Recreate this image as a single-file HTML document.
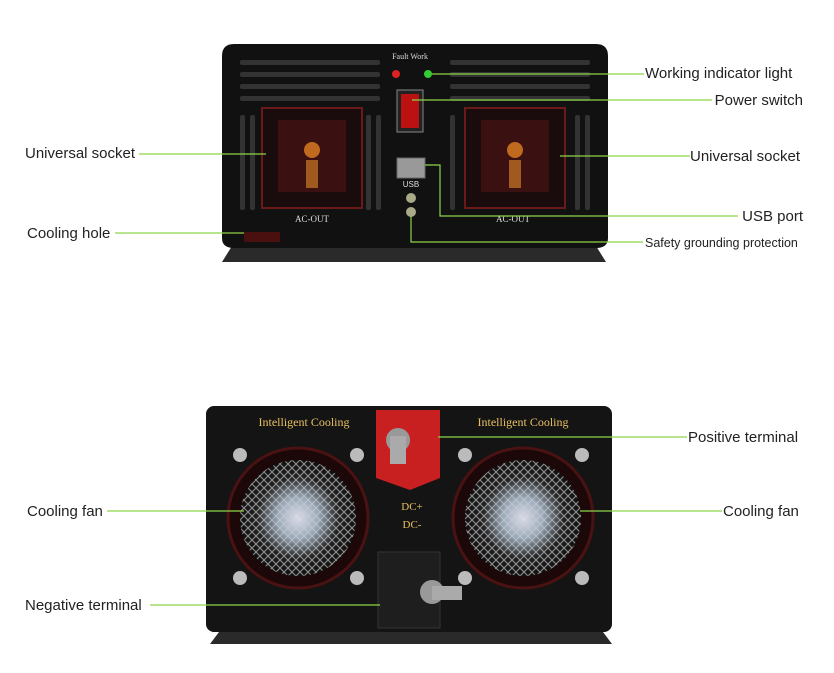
<!DOCTYPE html>
<html><head><meta charset="utf-8"><style>
body{margin:0;background:#fff;width:834px;height:668px;overflow:hidden;font-family:"Liberation Sans",sans-serif}
</style></head><body>
<svg width="834" height="668" viewBox="0 0 834 668" xmlns="http://www.w3.org/2000/svg">
<defs>
<radialGradient id="fan" cx="50%" cy="50%" r="50%"><stop offset="0" stop-color="#dde" /><stop offset="0.35" stop-color="#9ab"/><stop offset="0.7" stop-color="#222"/><stop offset="1" stop-color="#111"/></radialGradient>
<pattern id="grill" width="8" height="8" patternUnits="userSpaceOnUse"><rect width="8" height="8" fill="none"/><line x1="0" y1="0" x2="8" y2="8" stroke="#ccc" stroke-width="1"/><line x1="8" y1="0" x2="0" y2="8" stroke="#ccc" stroke-width="1"/></pattern>
</defs>
<path d="M232 246 L222 262 L606 262 L596 246Z" fill="#2a2a2a"/>
<path d="M222 56 Q222 44 234 44 L596 44 Q608 44 608 56 L608 238 Q608 248 596 248 L234 248 Q222 248 222 238Z" fill="#111"/>
<g fill="#333">
<rect x="240" y="60" width="140" height="5" rx="2"/><rect x="240" y="72" width="140" height="5" rx="2"/><rect x="240" y="84" width="140" height="5" rx="2"/><rect x="240" y="96" width="140" height="5" rx="2"/>
<rect x="450" y="60" width="140" height="5" rx="2"/><rect x="450" y="72" width="140" height="5" rx="2"/><rect x="450" y="84" width="140" height="5" rx="2"/><rect x="450" y="96" width="140" height="5" rx="2"/>
<rect x="240" y="115" width="5" height="95" rx="2"/><rect x="250" y="115" width="5" height="95" rx="2"/>
<rect x="366" y="115" width="5" height="95" rx="2"/><rect x="376" y="115" width="5" height="95" rx="2"/>
<rect x="450" y="115" width="5" height="95" rx="2"/><rect x="575" y="115" width="5" height="95" rx="2"/><rect x="585" y="115" width="5" height="95" rx="2"/>
</g>
<rect x="262" y="108" width="100" height="100" fill="#1a0c0c" stroke="#6a1a1a" stroke-width="2"/>
<rect x="465" y="108" width="100" height="100" fill="#1a0c0c" stroke="#6a1a1a" stroke-width="2"/>
<rect x="278" y="120" width="68" height="72" fill="#3a1010"/>
<rect x="481" y="120" width="68" height="72" fill="#3a1010"/>
<circle cx="312" cy="150" r="8" fill="#c06a20"/><circle cx="515" cy="150" r="8" fill="#c06a20"/>
<rect x="306" y="160" width="12" height="28" fill="#a05a20"/><rect x="509" y="160" width="12" height="28" fill="#a05a20"/>
<text x="312" y="222" font-family="Liberation Serif" font-size="9" fill="#ddd" text-anchor="middle">AC-OUT</text>
<text x="513" y="222" font-family="Liberation Serif" font-size="9" fill="#ddd" text-anchor="middle">AC-OUT</text>
<text x="410" y="59" font-family="Liberation Serif" font-size="8" fill="#ddd" text-anchor="middle">Fault Work</text>
<circle cx="396" cy="74" r="4" fill="#d22"/><circle cx="428" cy="74" r="4" fill="#3c3"/>
<rect x="397" y="90" width="26" height="42" fill="#222" stroke="#888"/>
<rect x="401" y="94" width="18" height="34" fill="#b11"/>
<rect x="397" y="158" width="28" height="20" fill="#999" stroke="#666"/>
<text x="411" y="187" font-size="8" fill="#ddd" text-anchor="middle">USB</text>
<circle cx="411" cy="198" r="5" fill="#aa8"/><circle cx="411" cy="212" r="5" fill="#aa8"/>
<rect x="244" y="232" width="36" height="10" fill="#4a1010"/>
<path d="M222 628 L210 644 L612 644 L600 628Z" fill="#2a2a2a"/>
<rect x="206" y="406" width="406" height="226" rx="8" fill="#141414"/>
<text x="304" y="426" font-family="Liberation Serif" font-size="12" fill="#e8c060" text-anchor="middle">Intelligent Cooling</text>
<text x="523" y="426" font-family="Liberation Serif" font-size="12" fill="#e8c060" text-anchor="middle">Intelligent Cooling</text>
<circle cx="298" cy="518" r="70" fill="#1c0808" stroke="#4a1212" stroke-width="3"/>
<circle cx="523" cy="518" r="70" fill="#1c0808" stroke="#4a1212" stroke-width="3"/>
<circle cx="298" cy="518" r="58" fill="url(#fan)"/><circle cx="523" cy="518" r="58" fill="url(#fan)"/>
<circle cx="298" cy="518" r="58" fill="url(#grill)" opacity="0.7"/><circle cx="523" cy="518" r="58" fill="url(#grill)" opacity="0.7"/>
<g fill="#bbb"><circle cx="240" cy="455" r="7"/><circle cx="357" cy="455" r="7"/><circle cx="240" cy="578" r="7"/><circle cx="357" cy="578" r="7"/>
<circle cx="465" cy="455" r="7"/><circle cx="582" cy="455" r="7"/><circle cx="465" cy="578" r="7"/><circle cx="582" cy="578" r="7"/></g>
<path d="M376 410 L440 410 L440 478 L410 490 L376 478Z" fill="#c82020"/>
<circle cx="398" cy="440" r="12" fill="#999"/><rect x="390" y="436" width="16" height="28" fill="#aaa"/>
<text x="412" y="510" font-family="Liberation Serif" font-size="11" fill="#e8c060" text-anchor="middle">DC+</text>
<text x="412" y="528" font-family="Liberation Serif" font-size="11" fill="#e8c060" text-anchor="middle">DC-</text>
<rect x="378" y="552" width="62" height="76" fill="#1e1e1e" stroke="#333"/>
<circle cx="432" cy="592" r="12" fill="#999"/><rect x="432" y="586" width="30" height="14" fill="#aaa"/>
<g stroke="#8fd34a" stroke-width="1.2" fill="none">
<polyline points="432,74 644,74"/>
<polyline points="412,100 712,100"/>
<polyline points="139,154 266,154"/>
<polyline points="560,156 690,156"/>
<polyline points="425,165 440,165 440,216 738,216"/>
<polyline points="115,233 244,233"/>
<polyline points="411,216 411,242 643,242"/>
<polyline points="438,437 687,437"/>
<polyline points="107,511 244,511"/>
<polyline points="580,511 722,511"/>
<polyline points="150,605 380,605"/>
</g>
<g font-size="15" fill="#222">
<text x="645" y="78">Working indicator light</text>
<text x="803" y="105" text-anchor="end">Power switch</text>
<text x="25" y="158">Universal socket</text>
<text x="690" y="161">Universal socket</text>
<text x="803" y="221" text-anchor="end">USB port</text>
<text x="27" y="238">Cooling hole</text>
<text x="645" y="247" font-size="12.5">Safety grounding protection</text>
<text x="688" y="442">Positive terminal</text>
<text x="27" y="516">Cooling fan</text>
<text x="723" y="516">Cooling fan</text>
<text x="25" y="610">Negative terminal</text>
</g>
</svg>
</body></html>
